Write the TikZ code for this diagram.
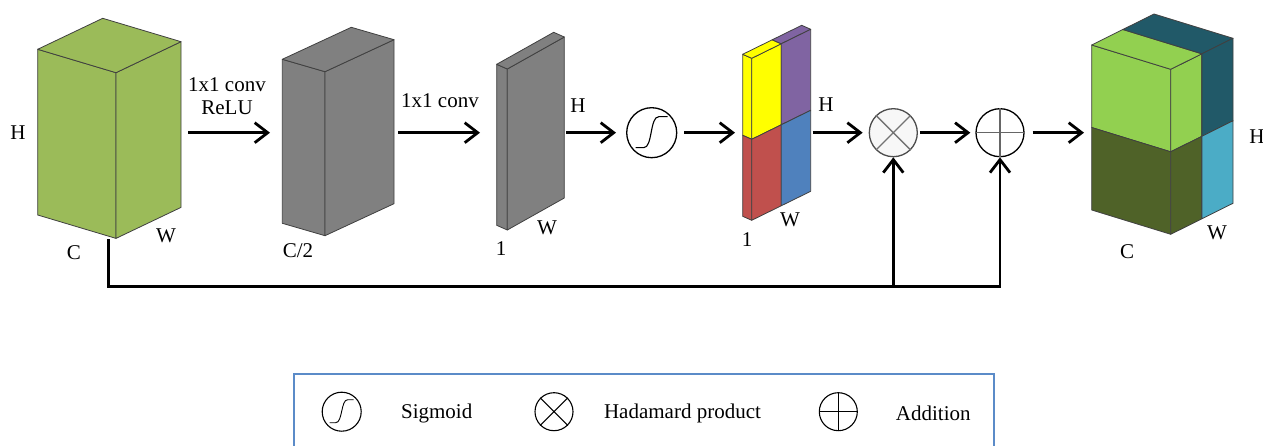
\documentclass[tikz,border=0pt]{standalone}
\usepackage{fontspec}
\setmainfont{Liberation Serif}
\usetikzlibrary{arrows.meta}
\definecolor{cgreen}{HTML}{9BBB59}
\definecolor{cgray}{HTML}{808080}
\definecolor{cyellow}{HTML}{FFFF00}
\definecolor{cpurple}{HTML}{8064A2}
\definecolor{cred}{HTML}{C0504D}
\definecolor{cblue}{HTML}{4F81BD}
\definecolor{clgreen}{HTML}{92D050}
\definecolor{cteal}{HTML}{215968}
\definecolor{colive}{HTML}{4F6228}
\definecolor{clblue}{HTML}{4BACC6}
\definecolor{cborder}{HTML}{5B8BC8}
\newcommand\mycuboid[7]{%
  \begin{scope}[shift={(#1)},x={(#2)},y={(#3)},z={(#4)}]
    \filldraw[edge,fill=#5] (0,0,0)--(1,0,0)--(1,0,1)--(0,0,1)--cycle;
    \filldraw[edge,fill=#6] (1,0,0)--(1,1,0)--(1,1,1)--(1,0,1)--cycle;
    \filldraw[edge,fill=#7] (0,0,0)--(1,0,0)--(1,1,0)--(0,1,0)--cycle;
  \end{scope}}
\tikzset{
  edge/.style={draw=black!75,line width=0.8pt,line join=round},
  lbl/.style={font=\fontsize{21}{25}\selectfont,inner sep=0pt},
  arr/.style={line width=2.8pt,-{Straight Barb[length=13pt,width=20pt]}},
  fbline/.style={line width=2.8pt,line join=miter},
  opcirc/.style={circle,draw,line width=1.3pt,minimum size=#1,inner sep=0pt},
  opcirc/.default=48pt,
  legbox/.style={draw=cborder,line width=2pt}
}
\begin{document}
\begin{tikzpicture}[x=1pt,y=-1pt]
\useasboundingbox (0,0) rectangle (1263,446);
\clip (0,0) rectangle (1263,446);

% input cube
\mycuboid{37.7,49.3}{78.3pt,-23.4pt}{65pt,31pt}{0pt,-165.7pt}{cgreen}{cgreen}{cgreen}
\node[lbl] (h1) at (18,133) {H};
\node[lbl] (c1) at (74,253) {C};
\node[lbl] (w1) at (166,236) {W};

% C/2 cube
\mycuboid{282.3,59.3}{42.7pt,-12.4pt}{69pt,32pt}{0pt,-164pt}{cgray}{cgray}{cgray}
\node[lbl] (c2) at (298,251) {C/2};

% 1-channel plate
\mycuboid{496.7,64.3}{10.6pt,-4.7pt}{57pt,32pt}{0pt,-161pt}{cgray}{cgray}{cgray}
\node[lbl] (h3) at (578,106) {H};
\node[lbl] (w3) at (547,228) {W};
\node[lbl] (o3) at (501,249) {1};

% coloured attention plate
\begin{scope}[shift={(742.7,54.3)},x={(9pt,-4pt)},y={(59pt,29pt)},z={(0pt,-162pt)}]
  \filldraw[edge,fill=cyellow] (0,0,0)--(1,0,0)--(1,0,.5)--(0,0,.5)--cycle;
  \filldraw[edge,fill=cyellow] (1,0,0)--(1,.5,0)--(1,.5,.5)--(1,0,.5)--cycle;
  \filldraw[edge,fill=cyellow] (0,0,0)--(1,0,0)--(1,.5,0)--(0,.5,0)--cycle;
  \filldraw[edge,fill=cpurple] (0,.5,0)--(1,.5,0)--(1,1,0)--(0,1,0)--cycle;
  \filldraw[edge,fill=cpurple] (1,.5,0)--(1,1,0)--(1,1,.5)--(1,.5,.5)--cycle;
  \filldraw[edge,fill=cred] (0,0,.5)--(1,0,.5)--(1,0,1)--(0,0,1)--cycle;
  \filldraw[edge,fill=cred] (1,0,.5)--(1,.5,.5)--(1,.5,1)--(1,0,1)--cycle;
  \filldraw[edge,fill=cblue] (1,.5,.5)--(1,1,.5)--(1,1,1)--(1,.5,1)--cycle;
\end{scope}
\node[lbl] (h4) at (826,105) {H};
\node[lbl] (w4) at (790,220) {W};
\node[lbl] (o4) at (747,240) {1};

% output cube
\begin{scope}[shift={(1091.7,45)},x={(79pt,-24.3pt)},y={(62.3pt,31pt)},z={(0pt,-165pt)}]
  \filldraw[edge,fill=clgreen] (0,0,0)--(1,0,0)--(1,0,.5)--(0,0,.5)--cycle;
  \filldraw[edge,fill=clgreen] (1,0,0)--(1,.5,0)--(1,.5,.5)--(1,0,.5)--cycle;
  \filldraw[edge,fill=clgreen] (0,0,0)--(1,0,0)--(1,.5,0)--(0,.5,0)--cycle;
  \filldraw[edge,fill=cteal] (0,.5,0)--(1,.5,0)--(1,1,0)--(0,1,0)--cycle;
  \filldraw[edge,fill=cteal] (1,.5,0)--(1,1,0)--(1,1,.5)--(1,.5,.5)--cycle;
  \filldraw[edge,fill=colive] (0,0,.5)--(1,0,.5)--(1,0,1)--(0,0,1)--cycle;
  \filldraw[edge,fill=colive] (1,0,.5)--(1,.5,.5)--(1,.5,1)--(1,0,1)--cycle;
  \filldraw[edge,fill=clblue] (1,.5,.5)--(1,1,.5)--(1,1,1)--(1,.5,1)--cycle;
\end{scope}
\node[lbl] (h5) at (1257,137) {H};
\node[lbl] (w5) at (1217,233) {W};
\node[lbl] (c5) at (1127,252) {C};

% operators
\node[opcirc=50pt] (sig) at (651.7,132.7) {};
\draw[line width=1.1pt] ([shift={(-16,15)}]sig.center) -- ++(8,0)
  .. controls +(9,0) and +(-9,0) .. ++(15,-31) -- ++(9,0);
\node[opcirc=48pt,fill=black!3,draw=black!70] (had) at (893.3,132.7) {};
\draw[black!55,line width=1.3pt] (had.north west) -- (had.south east) (had.north east) -- (had.south west);
\node[opcirc=48pt] (add) at (1000,132.7) {};
\draw[black!60,line width=1.3pt] (add.north) -- (add.south) (add.west) -- (add.east);

% arrow labels
\node[lbl] (t1) at (227,85) {1x1 conv};
\node[lbl] (t2) at (227,108) {ReLU};
\node[lbl] (t3) at (440,101) {1x1 conv};

% connectors
\coordinate (a1s) at (188,132.7);  \coordinate (a1e) at (270,132.7);
\coordinate (a2s) at (398,132.7);  \coordinate (a2e) at (480,132.7);
\coordinate (a3s) at (566,132.7);  \coordinate (a3e) at (616,132.7);
\coordinate (a4e) at (735,132.7);
\coordinate (a5s) at (812.7,132.7);
\coordinate (a8e) at (1084,132.7);
\draw[arr] (a1s) -- (a1e);
\draw[arr] (a2s) -- (a2e);
\draw[arr] (a3s) -- (a3e);
\draw[arr] ([xshift=7pt]sig.east) -- (a4e);
\draw[arr] (a5s) -- ([xshift=-6pt]had.west);
\draw[arr] ([xshift=2pt]had.east) -- ([xshift=-5pt]add.west);
\draw[arr] ([xshift=8pt]add.east) -- (a8e);

\coordinate (fb0) at (108.3,239.3);
\coordinate (fb1) at (108.3,286.7);
\draw[fbline,-{Straight Barb[length=13pt,width=20pt]}] (fb0) -- (fb1) -- (add.south |- fb1) -- (add.south);
\draw[arr] (had.south |- fb1) -- (had.south);

% legend
\draw[legbox] (293.5,373.5) rectangle (993.5,470);
\node[opcirc=39pt,line width=1.1pt] (lsig) at (341.7,411.7) {};
\draw[line width=0.9pt] ([shift={(-12,11)}]lsig.center) -- ++(6,0)
  .. controls +(7,0) and +(-7,0) .. ++(12,-23) -- ++(6,0);
\node[lbl] (tsig) at (436.7,413) {Sigmoid};
\node[opcirc=38pt,line width=1.1pt] (lhad) at (554,411.7) {};
\draw[line width=1.1pt] (lhad.north west) -- (lhad.south east) (lhad.north east) -- (lhad.south west);
\node[lbl] (thad) at (682.5,413) {Hadamard product};
\node[opcirc=38pt,line width=1.1pt] (ladd) at (838.3,411.7) {};
\draw[line width=1.1pt] (ladd.north) -- (ladd.south) (ladd.west) -- (ladd.east);
\node[lbl] (tadd) at (933.3,413) {Addition};
\end{tikzpicture}
\end{document}
